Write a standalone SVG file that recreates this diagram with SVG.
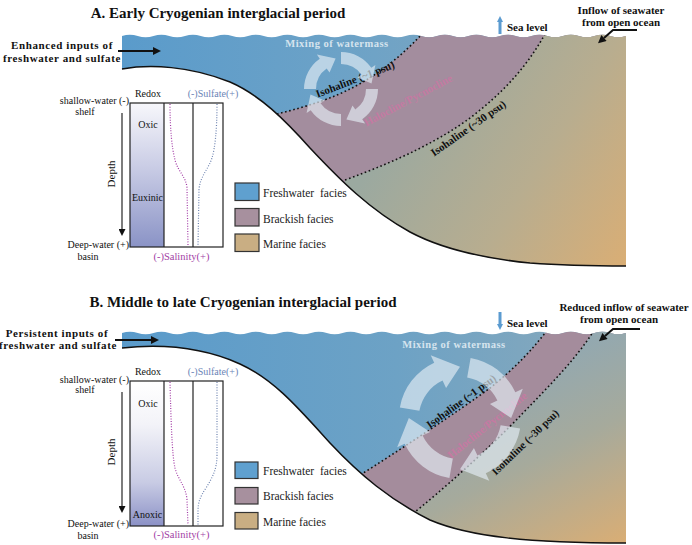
<svg xmlns="http://www.w3.org/2000/svg" xmlns:xlink="http://www.w3.org/1999/xlink" width="692" height="545" viewBox="0 0 692 545">
<style>
text{font-family:"Liberation Serif","Times New Roman",serif;fill:#111}
.title{font-size:15px;font-weight:bold}
.lbl{font-size:11px;font-weight:bold;letter-spacing:0.6px}
.lbl2{font-size:11px;font-weight:bold}
.mix{font-size:10.5px;font-weight:bold;fill:#d6e4ee;letter-spacing:0.5px}
.iso{font-size:11px;font-weight:bold;fill:#111}
.halo{font-size:11px;font-weight:bold;fill:#c47aa2}
.sm{font-size:10px}
.sal{font-size:10.5px;fill:#a23ea5}
.sul{font-size:10px;fill:#6a84b6}
.leg{font-size:11.5px;fill:#222}
.box{stroke:#222;stroke-width:1.2;fill:none}
.floor{fill:none;stroke:#111;stroke-width:1.5}
.dot{fill:none;stroke:#111;stroke-width:1.6;stroke-dasharray:1.6,2.6}
.saline{fill:none;stroke:#a33ca6;stroke-width:1.2;stroke-dasharray:1,1.6}
.sulline{fill:none;stroke:#6d83b0;stroke-width:1.2;stroke-dasharray:1,1.6}
.ring{fill:#e4edf4;opacity:0.66}
.arr{fill:none;stroke:#111;stroke-width:2}
.sea{fill:none;stroke:#5b9bd0;stroke-width:3}
.thin{fill:none;stroke:#111;stroke-width:1.1}
.lgbox{stroke:#333;stroke-width:1.2}
</style>
<defs>
<marker id="ah" viewBox="0 0 10 10" refX="0" refY="5" markerWidth="9" markerHeight="8" markerUnits="userSpaceOnUse" orient="auto"><path d="M0,0 L10,5 L0,10 Z" fill="#111"/></marker>
<marker id="ahs" viewBox="0 0 10 10" refX="0" refY="5" markerWidth="7" markerHeight="7" markerUnits="userSpaceOnUse" orient="auto"><path d="M0,0 L10,5 L0,10 Z" fill="#111"/></marker>
<marker id="ahb" viewBox="0 0 10 10" refX="0" refY="5" markerWidth="6" markerHeight="7" markerUnits="userSpaceOnUse" orient="auto"><path d="M0,0 L10,5 L0,10 Z" fill="#5b9bd0"/></marker>
<linearGradient id="freshA" gradientUnits="userSpaceOnUse" x1="122" y1="0" x2="626" y2="0"><stop offset="0" stop-color="#5a9bcb"/><stop offset="0.5" stop-color="#6fa3c6"/><stop offset="1" stop-color="#8aa6b8"/></linearGradient>
<linearGradient id="freshB" gradientUnits="userSpaceOnUse" x1="122" y1="0" x2="580" y2="0"><stop offset="0" stop-color="#5a9bcb"/><stop offset="0.6" stop-color="#6da2c5"/><stop offset="1" stop-color="#85a8bc"/></linearGradient>
<linearGradient id="marA" gradientUnits="userSpaceOnUse" x1="400" y1="120" x2="640" y2="270"><stop offset="0" stop-color="#9ba9a0"/><stop offset="0.5" stop-color="#b8ad8f"/><stop offset="1" stop-color="#ddae72"/></linearGradient>
<linearGradient id="marB" gradientUnits="userSpaceOnUse" x1="540" y1="345" x2="640" y2="545"><stop offset="0" stop-color="#8fa8b4"/><stop offset="0.45" stop-color="#a6aa9c"/><stop offset="1" stop-color="#ddae72"/></linearGradient>
<linearGradient id="redoxA" gradientUnits="userSpaceOnUse" x1="0" y1="103" x2="0" y2="247"><stop offset="0" stop-color="#f7f7fb"/><stop offset="0.45" stop-color="#c9cce5"/><stop offset="1" stop-color="#8a93c6"/></linearGradient>
<linearGradient id="redoxB" gradientUnits="userSpaceOnUse" x1="0" y1="381" x2="0" y2="526"><stop offset="0" stop-color="#ffffff"/><stop offset="0.3" stop-color="#f3f3f8"/><stop offset="0.7" stop-color="#c8cbe4"/><stop offset="1" stop-color="#8b91c6"/></linearGradient>
<path id="waterAshape" d="M122,36 q7.875,-2.5 15.75,0 t15.75,0 t15.75,0 t15.75,0 t15.75,0 t15.75,0 t15.75,0 t15.75,0 t15.75,0 t15.75,0 t15.75,0 t15.75,0 t15.75,0 t15.75,0 t15.75,0 t15.75,0 t15.75,0 t15.75,0 t15.75,0 t15.75,0 t15.75,0 t15.75,0 t15.75,0 t15.75,0 t15.75,0 t15.75,0 t15.75,0 t15.75,0 t15.75,0 t15.75,0 t15.75,0 t15.75,0 L626,266 C600,266 570,266 530,263 C480,258 440,248 410,232 C370,210 340,180 310,148 C285,120 260,95 230,82 C190,66 150,64 122,69 Z"/>
<path id="waterBshape" d="M122,333 q7.875,-2.5 15.75,0 t15.75,0 t15.75,0 t15.75,0 t15.75,0 t15.75,0 t15.75,0 t15.75,0 t15.75,0 t15.75,0 t15.75,0 t15.75,0 t15.75,0 t15.75,0 t15.75,0 t15.75,0 t15.75,0 t15.75,0 t15.75,0 t15.75,0 t15.75,0 t15.75,0 t15.75,0 t15.75,0 t15.75,0 t15.75,0 t15.75,0 t15.75,0 t15.75,0 t15.75,0 t15.75,0 t15.75,0 L626,543 C530,543 470,537 430,520 C390,500 360,475 330,443 C300,410 275,380 240,364 C200,346 160,344 122,348 Z"/>
<clipPath id="clipA"><use xlink:href="#waterAshape"/></clipPath>
<clipPath id="clipB"><use xlink:href="#waterBshape"/></clipPath>
<path id="ringArrow" d="M37,0 A37,37 0 0 1 21.22,30.31 L24.09,34.41 L5.38,30.53 L11.47,16.38 L14.34,20.48 A25,25 0 0 0 25,0 Z"/>
</defs>

<g id="panelA">
<text class="title" x="218" y="18" text-anchor="middle">A. Early Cryogenian interglacial period</text>
<g id="waterA">
<use xlink:href="#waterAshape" fill="url(#freshA)"/>
<g clip-path="url(#clipA)">
<path d="M277,114 C320,103 370,90 422,34 L640,20 L640,280 L277,280 Z" fill="#a38d9e"/>
<path d="M345,180 C400,160 440,140 470,118 C500,95 525,70 545,34 L640,20 L640,280 L345,280 Z" fill="url(#marA)"/>
<path class="dot" d="M277,114 C320,103 370,90 422,34"/>
<path class="dot" d="M345,180 C400,160 440,140 470,118 C500,95 525,70 545,34"/>
</g>
<path class="floor" d="M122,69 C150,64 190,66 230,82 C260,95 285,120 310,148 C340,180 370,210 410,232 C440,248 480,258 530,263 C570,266 600,266 626,266"/>
</g>
<text class="mix" x="337" y="47" text-anchor="middle">Mixing of watermass</text>
<text class="iso" transform="translate(355,79) rotate(-21)" x="0" y="4" text-anchor="middle">Isohaline (~1 psu)</text>
<text class="halo" transform="translate(408,100) rotate(-28)" x="0" y="4" text-anchor="middle">Halocline/Pycnocline</text>
<text class="iso" transform="translate(468,128) rotate(-35)" x="0" y="4" text-anchor="middle">Isohaline (~30 psu)</text>
<g id="mixA" transform="translate(341,89)">
<use xlink:href="#ringArrow" class="ring"/>
<use xlink:href="#ringArrow" class="ring" transform="rotate(90)"/>
<use xlink:href="#ringArrow" class="ring" transform="rotate(180)"/>
<use xlink:href="#ringArrow" class="ring" transform="rotate(270)"/>
</g>
<text class="lbl" x="62" y="49" text-anchor="middle">Enhanced inputs of</text>
<text class="lbl" x="62" y="62" text-anchor="middle">freshwater and sulfate</text>
<text class="lbl2" x="507" y="31">Sea level</text>
<text class="lbl2" x="621" y="14" text-anchor="middle">Inflow of seawater</text>
<text class="lbl2" x="621" y="26" text-anchor="middle">from open ocean</text>
<g id="insetA">
<rect x="130" y="103" width="34" height="144" fill="url(#redoxA)"/>
<rect class="box" x="130" y="103" width="93" height="144"/>
<line class="box" x1="164" y1="103" x2="164" y2="247"/>
<line class="box" x1="193" y1="103" x2="193" y2="247"/>
<path class="saline" d="M170,104 C170,130 172,148 175,160 C178,172 186,176 187,188 L188,246"/>
<path class="sulline" d="M217,104 C217,130 215,148 212,158 C208,170 200,176 199,190 L198,246"/>
<text class="sm" x="148" y="97" text-anchor="middle">Redox</text>
<text class="sul" x="213" y="97" text-anchor="middle">(-)Sulfate(+)</text>
<text class="sm" x="129" y="104" text-anchor="end">shallow-water (-)</text>
<text class="sm" x="85" y="114.5" text-anchor="middle">shelf</text>
<text class="sm" x="148" y="128" text-anchor="middle">Oxic</text>
<text class="sm" x="147.5" y="201" text-anchor="middle">Euxinic</text>
<text class="sm" style="font-size:11px" transform="translate(115,174) rotate(-90)" x="0" y="0" text-anchor="middle">Depth</text>
<text class="sm" x="129" y="247.5" text-anchor="end">Deep-water (+)</text>
<text class="sm" x="88" y="259.5" text-anchor="middle">basin</text>
<text class="sal" x="181.5" y="260" text-anchor="middle">(-)Salinity(+)</text>
</g>
<g id="legendA">
<rect class="lgbox" x="235" y="183" width="24" height="17.5" fill="#5fa0cf"/>
<rect class="lgbox" x="235" y="208.5" width="24" height="17.5" fill="#a7909e"/>
<rect class="lgbox" x="235" y="234" width="24" height="17.5" fill="#c9ae83"/>
<text class="leg" x="263" y="197" style="word-spacing:3px">Freshwater facies</text>
<text class="leg" x="263" y="222.5">Brackish facies</text>
<text class="leg" x="263" y="247.5">Marine facies</text>
</g>
</g>

<g id="panelB">
<text class="title" x="243" y="307" text-anchor="middle">B. Middle to late Cryogenian interglacial period</text>
<g id="waterB">
<use xlink:href="#waterBshape" fill="url(#freshB)"/>
<g clip-path="url(#clipB)">
<path d="M357,477 C400,450 460,410 490,388 C515,368 530,352 546,332 L640,320 L640,550 L357,550 Z" fill="#a48c9c"/>
<path d="M410,516 C440,492 490,448 523,413 C550,385 575,360 593,332 L640,320 L640,550 L410,550 Z" fill="url(#marB)"/>
<path class="dot" d="M357,477 C400,450 460,410 490,388 C515,368 530,352 546,332"/>
<path class="dot" d="M410,516 C440,492 490,448 523,413 C550,385 575,360 593,332"/>
</g>
<path class="floor" d="M122,348 C160,344 200,346 240,364 C275,380 300,410 330,443 C360,475 390,500 430,520 C470,537 530,543 626,543"/>
</g>
<text class="mix" x="454" y="348" text-anchor="middle">Mixing of watermass</text>
<text class="iso" transform="translate(461,401) rotate(-36)" x="0" y="4" text-anchor="middle">Isohaline (~1 psu)</text>
<text class="halo" transform="translate(487,425) rotate(-39)" x="0" y="4" text-anchor="middle">Halocline/Pycnocline</text>
<text class="iso" transform="translate(525,442) rotate(-44)" x="0" y="4" text-anchor="middle">Isohaline (~30 psu)</text>
<g id="mixB" transform="translate(460,418) rotate(10) scale(1.65)">
<use xlink:href="#ringArrow" class="ring"/>
<use xlink:href="#ringArrow" class="ring" transform="rotate(90)"/>
<use xlink:href="#ringArrow" class="ring" transform="rotate(180)"/>
<use xlink:href="#ringArrow" class="ring" transform="rotate(270)"/>
</g>
<text class="lbl" x="57" y="337" text-anchor="middle">Persistent inputs of</text>
<text class="lbl" x="58" y="349" text-anchor="middle">freshwater and sulfate</text>
<text class="lbl2" x="507" y="327">Sea level</text>
<text class="lbl2" x="624" y="311" text-anchor="middle">Reduced inflow of seawater</text>
<text class="lbl2" x="619" y="323" text-anchor="middle">from open ocean</text>
<g id="insetB">
<rect x="130" y="381" width="34" height="145" fill="url(#redoxB)"/>
<rect class="box" x="130" y="381" width="93" height="145"/>
<line class="box" x1="164" y1="381" x2="164" y2="526"/>
<line class="box" x1="193" y1="381" x2="193" y2="526"/>
<path class="saline" d="M170,382 C171,420 172,455 175,468 C178,480 186,486 187,500 L188,525"/>
<path class="sulline" d="M217,382 L217,455 C217,470 212,478 206,488 C200,497 198,502 198,512 L198,525"/>
<text class="sm" x="148" y="375" text-anchor="middle">Redox</text>
<text class="sul" x="213" y="375" text-anchor="middle">(-)Sulfate(+)</text>
<text class="sm" x="129" y="383" text-anchor="end">shallow-water (-)</text>
<text class="sm" x="85" y="393" text-anchor="middle">shelf</text>
<text class="sm" x="148" y="407" text-anchor="middle">Oxic</text>
<text class="sm" x="147.5" y="518" text-anchor="middle">Anoxic</text>
<text class="sm" style="font-size:11px" transform="translate(115,452) rotate(-90)" x="0" y="0" text-anchor="middle">Depth</text>
<text class="sm" x="129" y="526.5" text-anchor="end">Deep-water (+)</text>
<text class="sm" x="88" y="538.5" text-anchor="middle">basin</text>
<text class="sal" x="181.5" y="538" text-anchor="middle">(-)Salinity(+)</text>
</g>
<g id="legendB">
<rect class="lgbox" x="235" y="462" width="23" height="16.5" fill="#5fa0cf"/>
<rect class="lgbox" x="235" y="487.5" width="23" height="16.5" fill="#a7909e"/>
<rect class="lgbox" x="235" y="512.5" width="23" height="16.5" fill="#c9ae83"/>
<text class="leg" x="263" y="475" style="word-spacing:3px">Freshwater facies</text>
<text class="leg" x="263" y="500">Brackish facies</text>
<text class="leg" x="263" y="526">Marine facies</text>
</g>
</g>

<g id="connectors">
<line class="arr" x1="118" y1="51" x2="153" y2="51" marker-end="url(#ah)"/>
<line class="arr" x1="115" y1="340" x2="151" y2="340" marker-end="url(#ah)"/>
<polyline class="arr" points="637,30 613,30 604,38" marker-end="url(#ah)"/>
<polyline class="arr" points="640,329 613,329 605,336" marker-end="url(#ah)"/>
<line class="sea" x1="500" y1="34" x2="500" y2="22" marker-end="url(#ahb)"/>
<line class="sea" x1="500" y1="312" x2="500" y2="324" marker-end="url(#ahb)"/>
<line class="thin" x1="122" y1="113" x2="122" y2="229" marker-end="url(#ahs)"/>
<line class="thin" x1="122" y1="392" x2="122" y2="506" marker-end="url(#ahs)"/>
</g>
</svg>
